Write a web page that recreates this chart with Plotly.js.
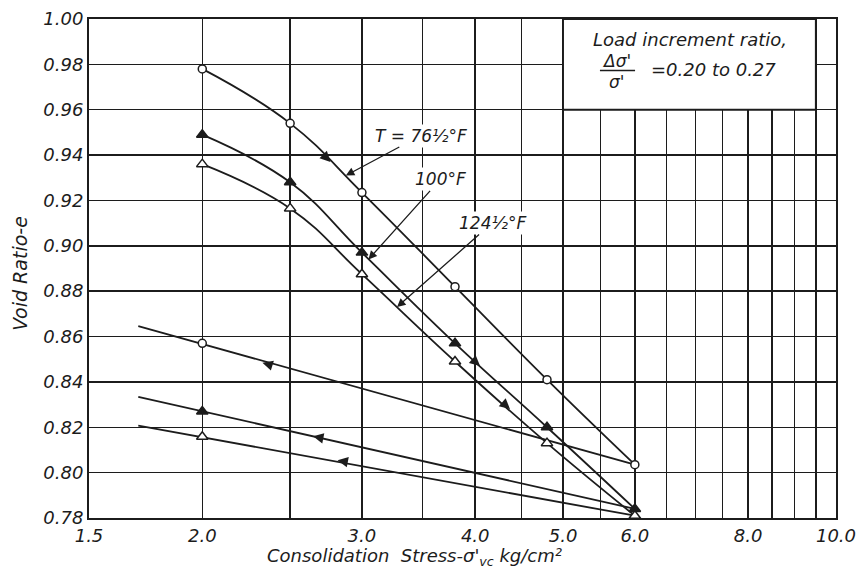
<!DOCTYPE html>
<html>
<head>
<meta charset="utf-8">
<script src="https://cdn.plot.ly/plotly-3.0.1.min.js"></script>
<style>
  html, body { margin: 0; padding: 0; background: #fff; }
  #chart { width: 857px; height: 571px; }
</style>
</head>
<body>
<div id="chart"></div>
<script>
// Consolidation stress steps (kg/cm^2) for the loading runs
const stress = [2.0, 2.5, 3.0, 3.8, 4.8, 6.0];
// Void ratio during loading at each temperature
const eLoad76 = [0.978, 0.954, 0.9235, 0.882, 0.841, 0.8035];
const eLoad100 = [0.949, 0.928, 0.897, 0.857, 0.820, 0.784];
const eLoad124 = [0.936, 0.9165, 0.8875, 0.849, 0.813, 0.781];

// Rebound (unloading) branches, drawn back from 6.0 past 2.0
const reboundStress = [6.0, 2.0, 1.7];
const eRebound76 = [0.8035, 0.857, 0.8646];
const eRebound100 = [0.784, 0.827, 0.8334];
const eRebound124 = [0.781, 0.8158, 0.8207];

// Axis ticks
const xGrid = [1.5, 2.0, 2.5, 3.0, 3.5, 4.0, 4.5, 5.0, 5.5, 6.0, 6.5, 7.0, 7.5, 8.0, 8.5, 9.0, 9.5, 10.0];
const xLabelled = {1.5: '1.5', 2.0: '2.0', 3.0: '3.0', 4.0: '4.0', 5.0: '5.0', 6.0: '6.0', 8.0: '8.0', 10.0: '10.0'};
const yTicks = [0.78, 0.80, 0.82, 0.84, 0.86, 0.88, 0.90, 0.92, 0.94, 0.96, 0.98, 1.00];

const ink = '#1c1c1c';
const FONT = 'DejaVu Sans';
const lg = v => Math.log10(v);

function loadTrace(y, symbol, fill, size) {
  return {
    x: stress, y: y, type: 'scatter', mode: 'lines+markers',
    line: {color: ink, width: 1.8, shape: 'spline', smoothing: 1.2},
    marker: {symbol: symbol, size: size, color: fill, line: {color: ink, width: 1.5}},
    cliponaxis: false, hoverinfo: 'skip'
  };
}
function reboundLine(y) {
  return {
    x: reboundStress, y: y, type: 'scatter', mode: 'lines',
    line: {color: ink, width: 1.8}, cliponaxis: false, hoverinfo: 'skip'
  };
}
// the measured rebound point at 2.0 kg/cm^2
function reboundPoint(y, symbol, fill, size) {
  return {
    x: [reboundStress[1]], y: [y[1]], type: 'scatter', mode: 'markers',
    marker: {symbol: symbol, size: size, color: fill, line: {color: ink, width: 1.5}},
    cliponaxis: false, hoverinfo: 'skip'
  };
}

const traces = [
  reboundLine(eRebound76), reboundLine(eRebound100), reboundLine(eRebound124),
  reboundPoint(eRebound76, 'circle', '#fff', 8),
  reboundPoint(eRebound100, 'triangle-up', ink, 10),
  reboundPoint(eRebound124, 'triangle-up', '#fff', 10),
  loadTrace(eLoad76, 'circle', '#fff', 8),
  loadTrace(eLoad100, 'triangle-up', ink, 10),
  loadTrace(eLoad124, 'triangle-up', '#fff', 10)
];

// small direction arrows along the curves
function dirArrow(x, y, ax, ay) {
  return {x: lg(x), y: y, xref: 'x', yref: 'y', text: '', showarrow: true,
          arrowhead: 2, arrowsize: 1.3, arrowwidth: 1.6, arrowcolor: ink,
          ax: ax, ay: ay, standoff: 0};
}
// temperature labels with leader arrows
function tempLabel(text, x, y, ax, ay) {
  return {x: lg(x), y: y, xref: 'x', yref: 'y', text: text, showarrow: true,
          arrowhead: 2, arrowsize: 1.3, arrowwidth: 1.3, arrowcolor: ink,
          ax: ax, ay: ay, standoff: 0, bgcolor: '#fff', borderpad: 1,
          font: {family: FONT, size: 17, color: ink, style: 'italic'}};
}
function paperText(text, x, y, size, extra) {
  return Object.assign({x: x, y: y, xref: 'paper', yref: 'paper', text: text,
          xanchor: 'center', yanchor: 'middle',
          showarrow: false, font: {family: FONT, size: size, color: ink, style: 'italic'}}, extra || {});
}

const annotations = [
  dirArrow(2.77, 0.937, -8, -8),
  dirArrow(4.05, 0.847, -8, -7),
  dirArrow(4.37, 0.828, -8, -7),
  dirArrow(2.33, 0.8485, 10, 3),
  dirArrow(2.65, 0.816, 10, 2),
  dirArrow(2.82, 0.8055, 10, 2),
  tempLabel('T = 76½°F', 2.88, 0.931, 75, -40),
  tempLabel('100°F', 3.05, 0.894, 72, -80),
  tempLabel('124½°F', 3.28, 0.873, 95, -84),
  paperText('Void Ratio-e', -0.092, 0.49, 19, {textangle: -90}),
  paperText("Consolidation  Stress-σ'<sub>vc</sub> kg/cm²", 0.436, -0.079, 18),
  paperText('Load increment ratio,', 0.805, 0.958, 18),
  paperText("Δσ'", 0.706, 0.916, 17),
  paperText("σ'", 0.706, 0.873, 17),
  paperText('=0.20 to 0.27', 0.836, 0.898, 18)
];

const shapes = [
  // boxed note in the upper right corner
  {type: 'rect', xref: 'x', yref: 'y', x0: 5.0, x1: 9.5, y0: 0.96, y1: 1.00,
   fillcolor: '#fff', line: {color: ink, width: 1.8}, layer: 'above'},
  // fraction bar
  {type: 'line', xref: 'paper', yref: 'paper', x0: 0.684, x1: 0.731, y0: 0.897, y1: 0.897,
   line: {color: ink, width: 1.5}, layer: 'above'}
];

const layout = {
  width: 857, height: 571,
  margin: {l: 89, r: 21, t: 19, b: 53},
  paper_bgcolor: '#fff', plot_bgcolor: '#fff',
  showlegend: false,
  xaxis: {
    type: 'log', range: [lg(1.5), lg(10)],
    tickmode: 'array', tickvals: xGrid,
    ticktext: xGrid.map(v => xLabelled[v] || ''),
    showgrid: true, gridcolor: ink, gridwidth: 1.5,
    showline: true, linecolor: ink, linewidth: 2, mirror: true,
    ticks: '', zeroline: false,
    tickfont: {family: FONT, size: 18, color: ink, style: 'italic'}
  },
  yaxis: {
    range: [0.78, 1.00],
    tickmode: 'array', tickvals: yTicks, ticktext: yTicks.map(v => v.toFixed(2)),
    showgrid: true, gridcolor: ink, gridwidth: 1.5,
    showline: true, linecolor: ink, linewidth: 2, mirror: true,
    ticks: '', zeroline: false,
    tickfont: {family: FONT, size: 18, color: ink, style: 'italic'}
  },
  annotations: annotations,
  shapes: shapes
};

Plotly.newPlot('chart', traces, layout, {displayModeBar: false, staticPlot: true});
</script>
</body>
</html>
